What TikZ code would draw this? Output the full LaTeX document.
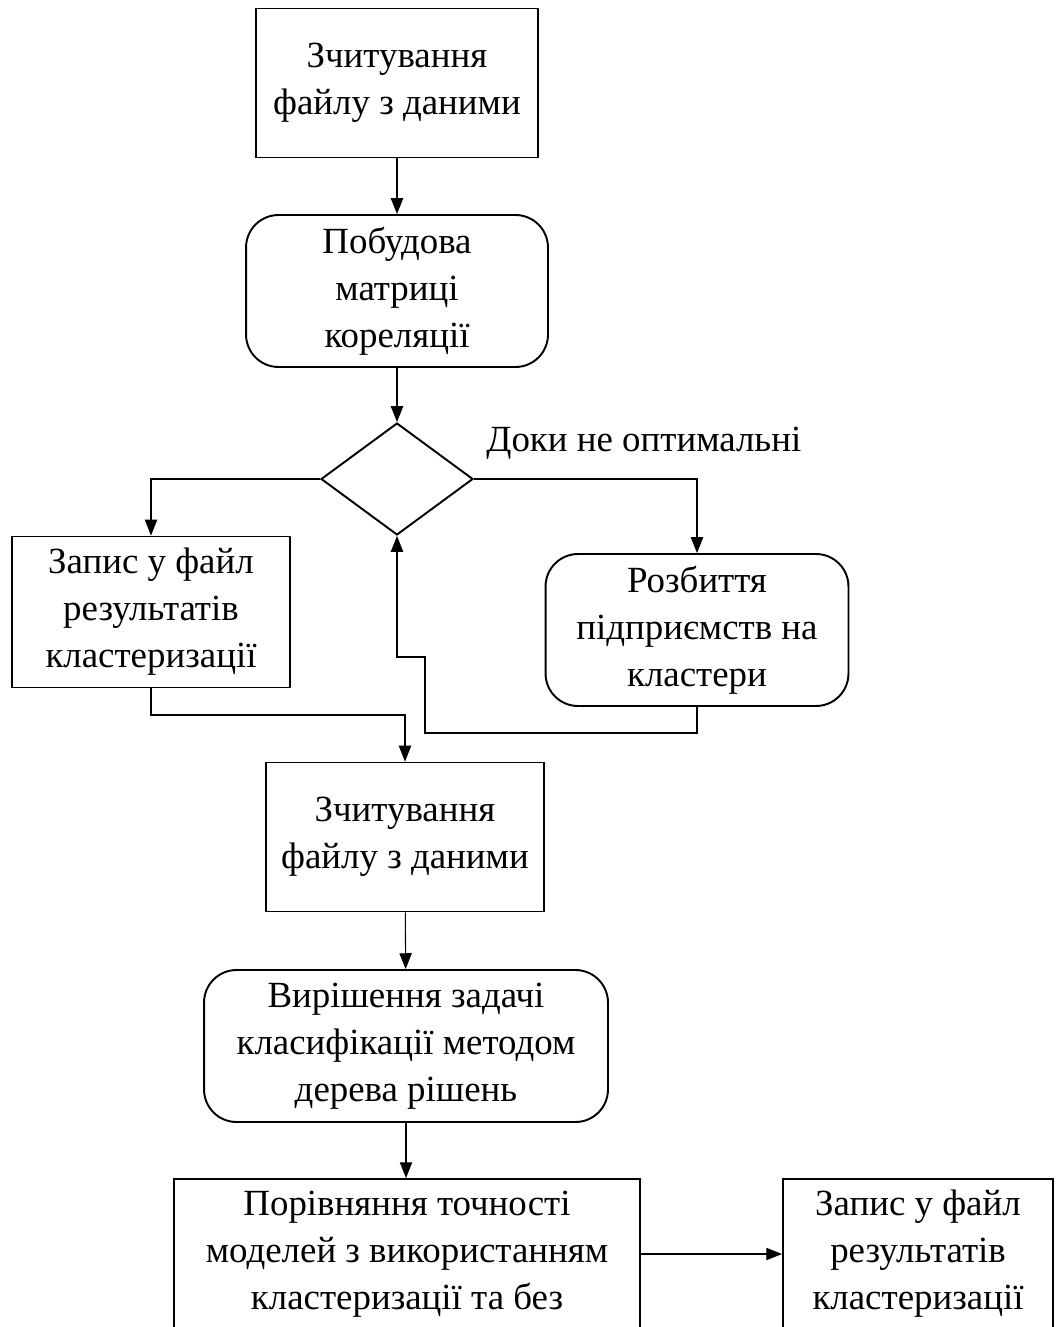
\documentclass[tikz,border=0pt]{standalone}
\usepackage{fontspec}
\setmainfont{Liberation Serif}
\usepackage{tikz}
\usetikzlibrary{arrows.meta,positioning,shapes.geometric}

\begin{document}
\begin{tikzpicture}[x=0.02cm, y=-0.02cm,
  box/.style={draw, line width=1.1pt, align=center, inner sep=2pt, minimum height=2.98cm, font=\fontsize{21}{26.7}\selectfont},
  rbox/.style={box, rounded corners=0.65cm},
  cond/.style={draw, line width=1.1pt, diamond, minimum width=3.04cm, minimum height=2.24cm, inner sep=0pt},
  arrow/.style={-{Triangle[length=9pt,width=7pt]}, draw, line width=0.6pt},
  line/.style={draw, line width=0.6pt},
]
\useasboundingbox (0,0) rectangle (1056,1327);

\node[box, minimum width=5.64cm] (read1) at (397,83) {Зчитування\\файлу з даними};
\node[rbox, minimum width=6.04cm, minimum height=3.04cm] (corr) at (397,291) {Побудова\\матриці\\кореляції};
\node[cond] (check) at (397,479) {};
\node[font=\fontsize{21}{26.7}\selectfont, anchor=west, inner sep=0pt] (lbl) at (486,443) {Доки не оптимальні};

\node[box, minimum width=5.56cm, minimum height=3.02cm] (write1) at (151,612) {Запис у файл\\результатів\\кластеризації};
\node[rbox, minimum width=6.06cm, minimum height=3.04cm] (split) at (697,630) {Розбиття\\підприємств на\\кластери};

\node[box, minimum width=5.56cm] (read2) at (405,837) {Зчитування\\файлу з даними};
\node[rbox, minimum width=8.08cm, minimum height=3.04cm] (tree) at (406,1046) {Вирішення задачі\\класифікації методом\\дерева рішень};
\node[box, minimum width=9.32cm, minimum height=3.0cm] (cmp) at (407,1254) {Порівняння точності\\моделей з використанням\\кластеризації та без};
\node[box, minimum width=5.4cm, minimum height=3.0cm] (write2) at (918,1254) {Запис у файл\\результатів\\кластеризації};

\coordinate (fbA) at (425,733);
\coordinate (fbB) at (397,657);
\coordinate (jn) at (405,715);

\draw[arrow] (read1) -- (corr);
\draw[arrow] (corr) -- (check.north);
\draw[arrow] (check.west) -| (write1.north);
\draw[arrow] (check.east) -| (split.north);
\draw[arrow] (split.south) |- (fbA) |- (fbB) -- (check.south);
\draw[arrow] (write1.south) |- (jn) -- (read2.north);
\draw[arrow] (read2) -- (tree);
\draw[arrow] (tree.south) -- (tree.south |- cmp.north);
\draw[arrow] (cmp) -- (write2);
\end{tikzpicture}
\end{document}
